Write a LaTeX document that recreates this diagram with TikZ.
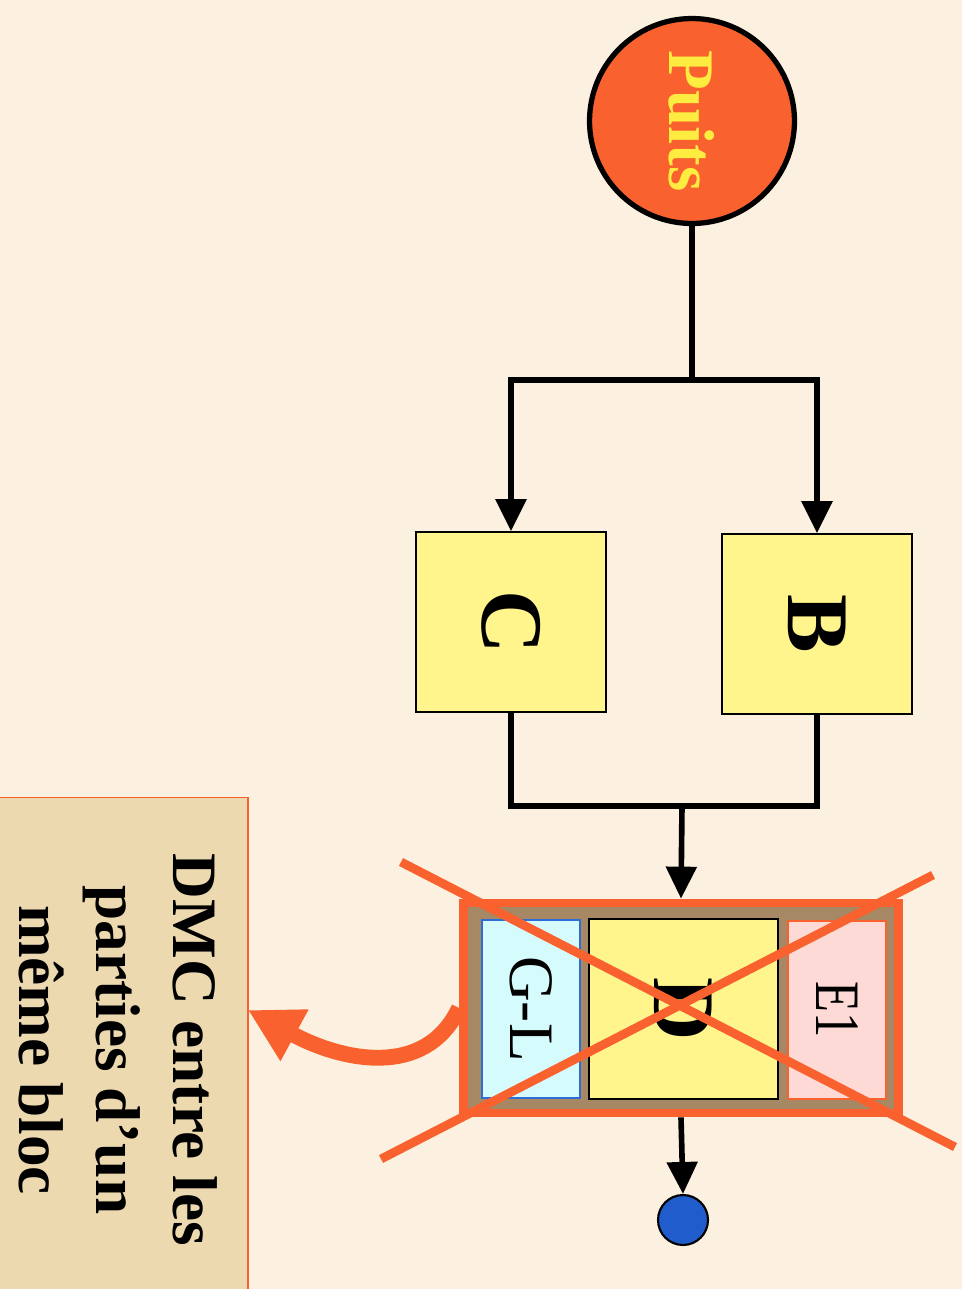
\documentclass[tikz,border=0pt]{standalone}
\usepackage{fontspec}
\setmainfont{Liberation Serif}
\usetikzlibrary{arrows.meta,positioning}

\definecolor{paper}{RGB}{252,241,224}
\definecolor{puitsred}{RGB}{249,98,46}
\definecolor{boxyellow}{RGB}{255,245,140}
\definecolor{gold}{RGB}{255,236,64}
\definecolor{glcyan}{RGB}{214,251,253}
\definecolor{glblue}{RGB}{44,110,214}
\definecolor{elpink}{RGB}{253,218,214}
\definecolor{rock}{RGB}{166,136,100}
\definecolor{notetan}{RGB}{236,217,175}
\definecolor{dotblue}{RGB}{32,92,204}

\begin{document}
\begin{tikzpicture}[
      x=0.02cm, y=-0.02cm,
      mycircle/.style={
         circle,
         draw=black,
         line width=3pt,
         fill=puitsred,
         text=gold,
         inner sep=0pt,
         minimum size=4.1cm,
         font=\fontsize{37}{44}\selectfont\bfseries},
      mybox/.style={
         rectangle,
         draw=black,
         line width=1pt,
         fill=boxyellow,
         inner sep=0pt,
         minimum width=3.8cm,
         minimum height=3.6cm,
         font=\fontsize{50}{60}\selectfont\bfseries},
      mypart/.style={
         rectangle,
         line width=1pt,
         inner sep=0pt,
         minimum width=1.96cm,
         minimum height=3.56cm,
         font=\fontsize{36}{43}\selectfont},
      myline/.style={line width=3.2pt},
      myarrow/.style={line width=3.2pt,-{Triangle[length=0.64cm,width=0.6cm]}},
      mycross/.style={draw=puitsred,line width=5pt}
      ]
      \fill[paper] (0,0) rectangle (962,1289);
      \useasboundingbox (0,0) rectangle (962,1289);
      \node[mycircle] (puits) at (692,121) {\rotatebox{-90}{Puits}};
      \node[mybox] (c) at (511,622) {\rotatebox{-90}{C}};
      \node[mybox] (b) at (817,624) {\rotatebox{-90}{B}};
      \node[draw=puitsred,line width=5pt,fill=rock,minimum width=8.7cm,minimum height=4.2cm] (bloc) at (681,1008) {};
      \node[mypart,draw=glblue,fill=glcyan] (gl) at (531,1009) {\rotatebox{-90}{G-L}};
      \node[mybox,minimum width=3.78cm] (d) at (683.5,1009) {\rotatebox{-90}{D}};
      \node[mypart,draw=puitsred,fill=elpink] (el) at (837,1010) {\rotatebox{-90}{\scalebox{0.8}[1]{E1}}};
      \node[circle,draw=black,line width=1.2pt,fill=dotblue,inner sep=0pt,minimum size=1cm] (sortie) at (683,1220) {};
      \node[draw=puitsred,line width=1pt,fill=notetan,minimum width=5cm,minimum height=10.5cm] (note) at (123,1060) {};
      \node[rotate=-90,align=center,font=\fontsize{36}{44}\selectfont\bfseries] (notetext) at (118,1050) {DMC entre les\\parties d'un\\même bloc};
      \coordinate (split) at (692,380);
      \coordinate (join) at (682,806);
      \coordinate (x1) at (401,862);
      \coordinate (x2) at (955,1147);
      \coordinate (x3) at (933,875);
      \coordinate (x4) at (381,1159);
      \coordinate (pointe) at (248,1010);
      \draw[myline] (puits) -- (split);
      \foreach \k in {c,b}
         \draw[myarrow] (split) -| (\k.north);
      \draw[myline] (c.south) |- (join) -| (b.south);
      \draw[myarrow] (join) -- (bloc.north);
      \draw[myarrow] (bloc.south) -- (sortie.north);
      \draw[mycross] (x1) -- (x2);
      \draw[mycross] (x3) -- (x4);
      \draw[draw=puitsred,line width=9pt,-{Triangle[length=1.06cm,width=1.1cm]}] (bloc.west) .. controls (425,1080) and (340,1060) .. (pointe);
\end{tikzpicture}
\end{document}
